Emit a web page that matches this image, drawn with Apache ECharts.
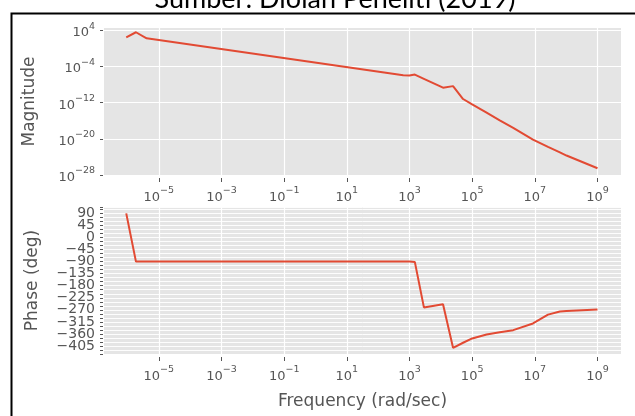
<!DOCTYPE html>
<html>
<head>
<meta charset="utf-8">
<script src="https://cdn.jsdelivr.net/npm/echarts@6/dist/echarts.min.js"></script>
<style>
  html, body { margin: 0; padding: 0; background: #fff; }
  #chart { width: 635px; height: 416px; }
</style>
</head>
<body>
<div id="chart"></div>
<script>
// Bode plot data: frequency as log10(rad/sec), magnitude as log10(|G|), phase in degrees
const freqLog10 = [-6.04, -5.73, -5.39, 2.8, 3.0, 3.17, 3.46, 4.07, 4.39, 4.71, 5.0, 5.46, 5.88, 6.31, 6.94, 7.42, 7.8, 8.01, 9.0];
const magLog10  = [2.45, 3.56, 2.23, -5.95, -6.0, -5.8, -6.73, -8.7, -8.35, -11.2, -12.4, -14.2, -15.9, -17.6, -20.2, -21.8, -23.0, -23.7, -26.5];
const phaseDeg  = [90, -90, -90, -90, -90, -91, -261, -249, -412, -393, -377, -362, -354, -346, -321, -288, -276, -274, -269];

// Tick positions
const freqTicks = [-5, -3, -1, 1, 3, 5, 7, 9];
const magTicks = [-28, -20, -12, -4, 4];
const phaseMajorStep = 45;

const LINE = '#E24A33';
const TICK = '#555555';
const FONT = 'DejaVu Sans';

const minus = '\u2212';
function pow10Label(v) {
  const e = Math.round(v);
  const s = e < 0 ? minus + Math.abs(e) : String(e);
  return '{b|10}{s|' + s + '}';
}
const powRich = {
  b: { fontSize: 13, fontFamily: FONT, color: TICK, lineHeight: 18, verticalAlign: 'bottom' },
  s: { fontSize: 9.5, fontFamily: FONT, color: TICK, lineHeight: 12, verticalAlign: 'top' }
};

function freqAxis(gridIndex, withName) {
  return {
    type: 'value', gridIndex: gridIndex, min: -6.75, max: 9.75, offset: 3,
    axisLine: { show: false, onZero: false },
    axisTick: { show: true, customValues: freqTicks, length: 4, lineStyle: { color: TICK, width: 1 } },
    axisLabel: { customValues: freqTicks, formatter: pow10Label, rich: powRich, margin: 8 },
    splitLine: { show: false },
    name: withName ? 'Frequency (rad/sec)' : '',
    nameLocation: 'middle', nameGap: 36,
    nameTextStyle: { fontSize: 17, fontFamily: FONT, color: TICK }
  };
}

// white grid lines at the labelled ticks
function gridLines(xs, ys, width) {
  return {
    silent: true, symbol: ['none', 'none'], label: { show: false },
    lineStyle: { color: '#ffffff', width: width, type: 'solid', opacity: 1 },
    emphasis: { disabled: true },
    data: xs.map(v => ({ xAxis: v })).concat(ys.map(v => ({ yAxis: v })))
  };
}

const magPairs = freqLog10.map((f, i) => [f, magLog10[i]]);
const phasePairs = freqLog10.map((f, i) => [f, phaseDeg[i]]);

const chart = echarts.init(document.getElementById('chart'), null, { renderer: 'canvas' });
chart.setOption({
  backgroundColor: '#ffffff',
  animation: false,
  grid: [
    { left: 104, top: 28, width: 517, height: 147, show: true, backgroundColor: '#E5E5E5', borderWidth: 0 },
    { left: 104, top: 207, width: 517, height: 147, show: true, backgroundColor: '#E5E5E5', borderWidth: 0 }
  ],
  xAxis: [freqAxis(0, false), freqAxis(1, true)],
  yAxis: [
    {
      type: 'value', gridIndex: 0, min: -28, max: 4.5, offset: 1,
      axisLine: { show: false, onZero: false },
      axisTick: { show: true, customValues: magTicks, length: 3, lineStyle: { color: TICK } },
      axisLabel: { customValues: magTicks, formatter: pow10Label, rich: powRich, margin: 8 },
      splitLine: { show: false },
      name: 'Magnitude', nameLocation: 'middle', nameGap: 65, nameRotate: 90,
      nameTextStyle: { fontSize: 17, fontFamily: FONT, color: TICK }
    },
    {
      type: 'value', gridIndex: 1, min: -435, max: 114, interval: 15, offset: 1,
      axisLine: { show: false, onZero: false },
      axisTick: { show: true, length: 3, lineStyle: { color: TICK } },
      axisLabel: {
        margin: 8, fontSize: 14, fontFamily: FONT, color: TICK, lineHeight: 12,
        formatter: v => (Math.round(v) % phaseMajorStep === 0 ? String(Math.round(v)).replace('-', minus) : '')
      },
      splitLine: { show: true, lineStyle: { color: '#ffffff', width: 0.9 } },
      name: 'Phase (deg)', nameLocation: 'middle', nameGap: 62, nameRotate: 90,
      nameTextStyle: { fontSize: 17, fontFamily: FONT, color: TICK }
    }
  ],
  series: [
    {
      type: 'line', xAxisIndex: 0, yAxisIndex: 0, data: [], z: 1,
      markLine: gridLines(freqTicks, magTicks, 1.2)
    },
    {
      type: 'line', xAxisIndex: 1, yAxisIndex: 1, data: [], z: 1,
      markLine: gridLines(freqTicks, [], 1.2)
    },
    {
      type: 'line', xAxisIndex: 0, yAxisIndex: 0, data: magPairs,
      showSymbol: false, lineStyle: { color: LINE, width: 2 }, z: 5
    },
    {
      type: 'line', xAxisIndex: 1, yAxisIndex: 1, data: phasePairs,
      showSymbol: false, lineStyle: { color: LINE, width: 2 }, z: 5
    }
  ],
  graphic: [
    {
      type: 'rect', left: 9, top: 11,
      shape: { x: 0, y: 0, width: 700, height: 500 },
      style: { fill: 'none', stroke: '#000000', lineWidth: 2 },
      silent: true
    },
    {
      type: 'text', x: 335, y: 13,
      style: {
        text: 'Sumber: Diolah Peneliti (2019)', fill: '#000000',
        font: '27px Lato', align: 'center', verticalAlign: 'bottom'
      },
      silent: true
    }
  ]
});
</script>
</body>
</html>
